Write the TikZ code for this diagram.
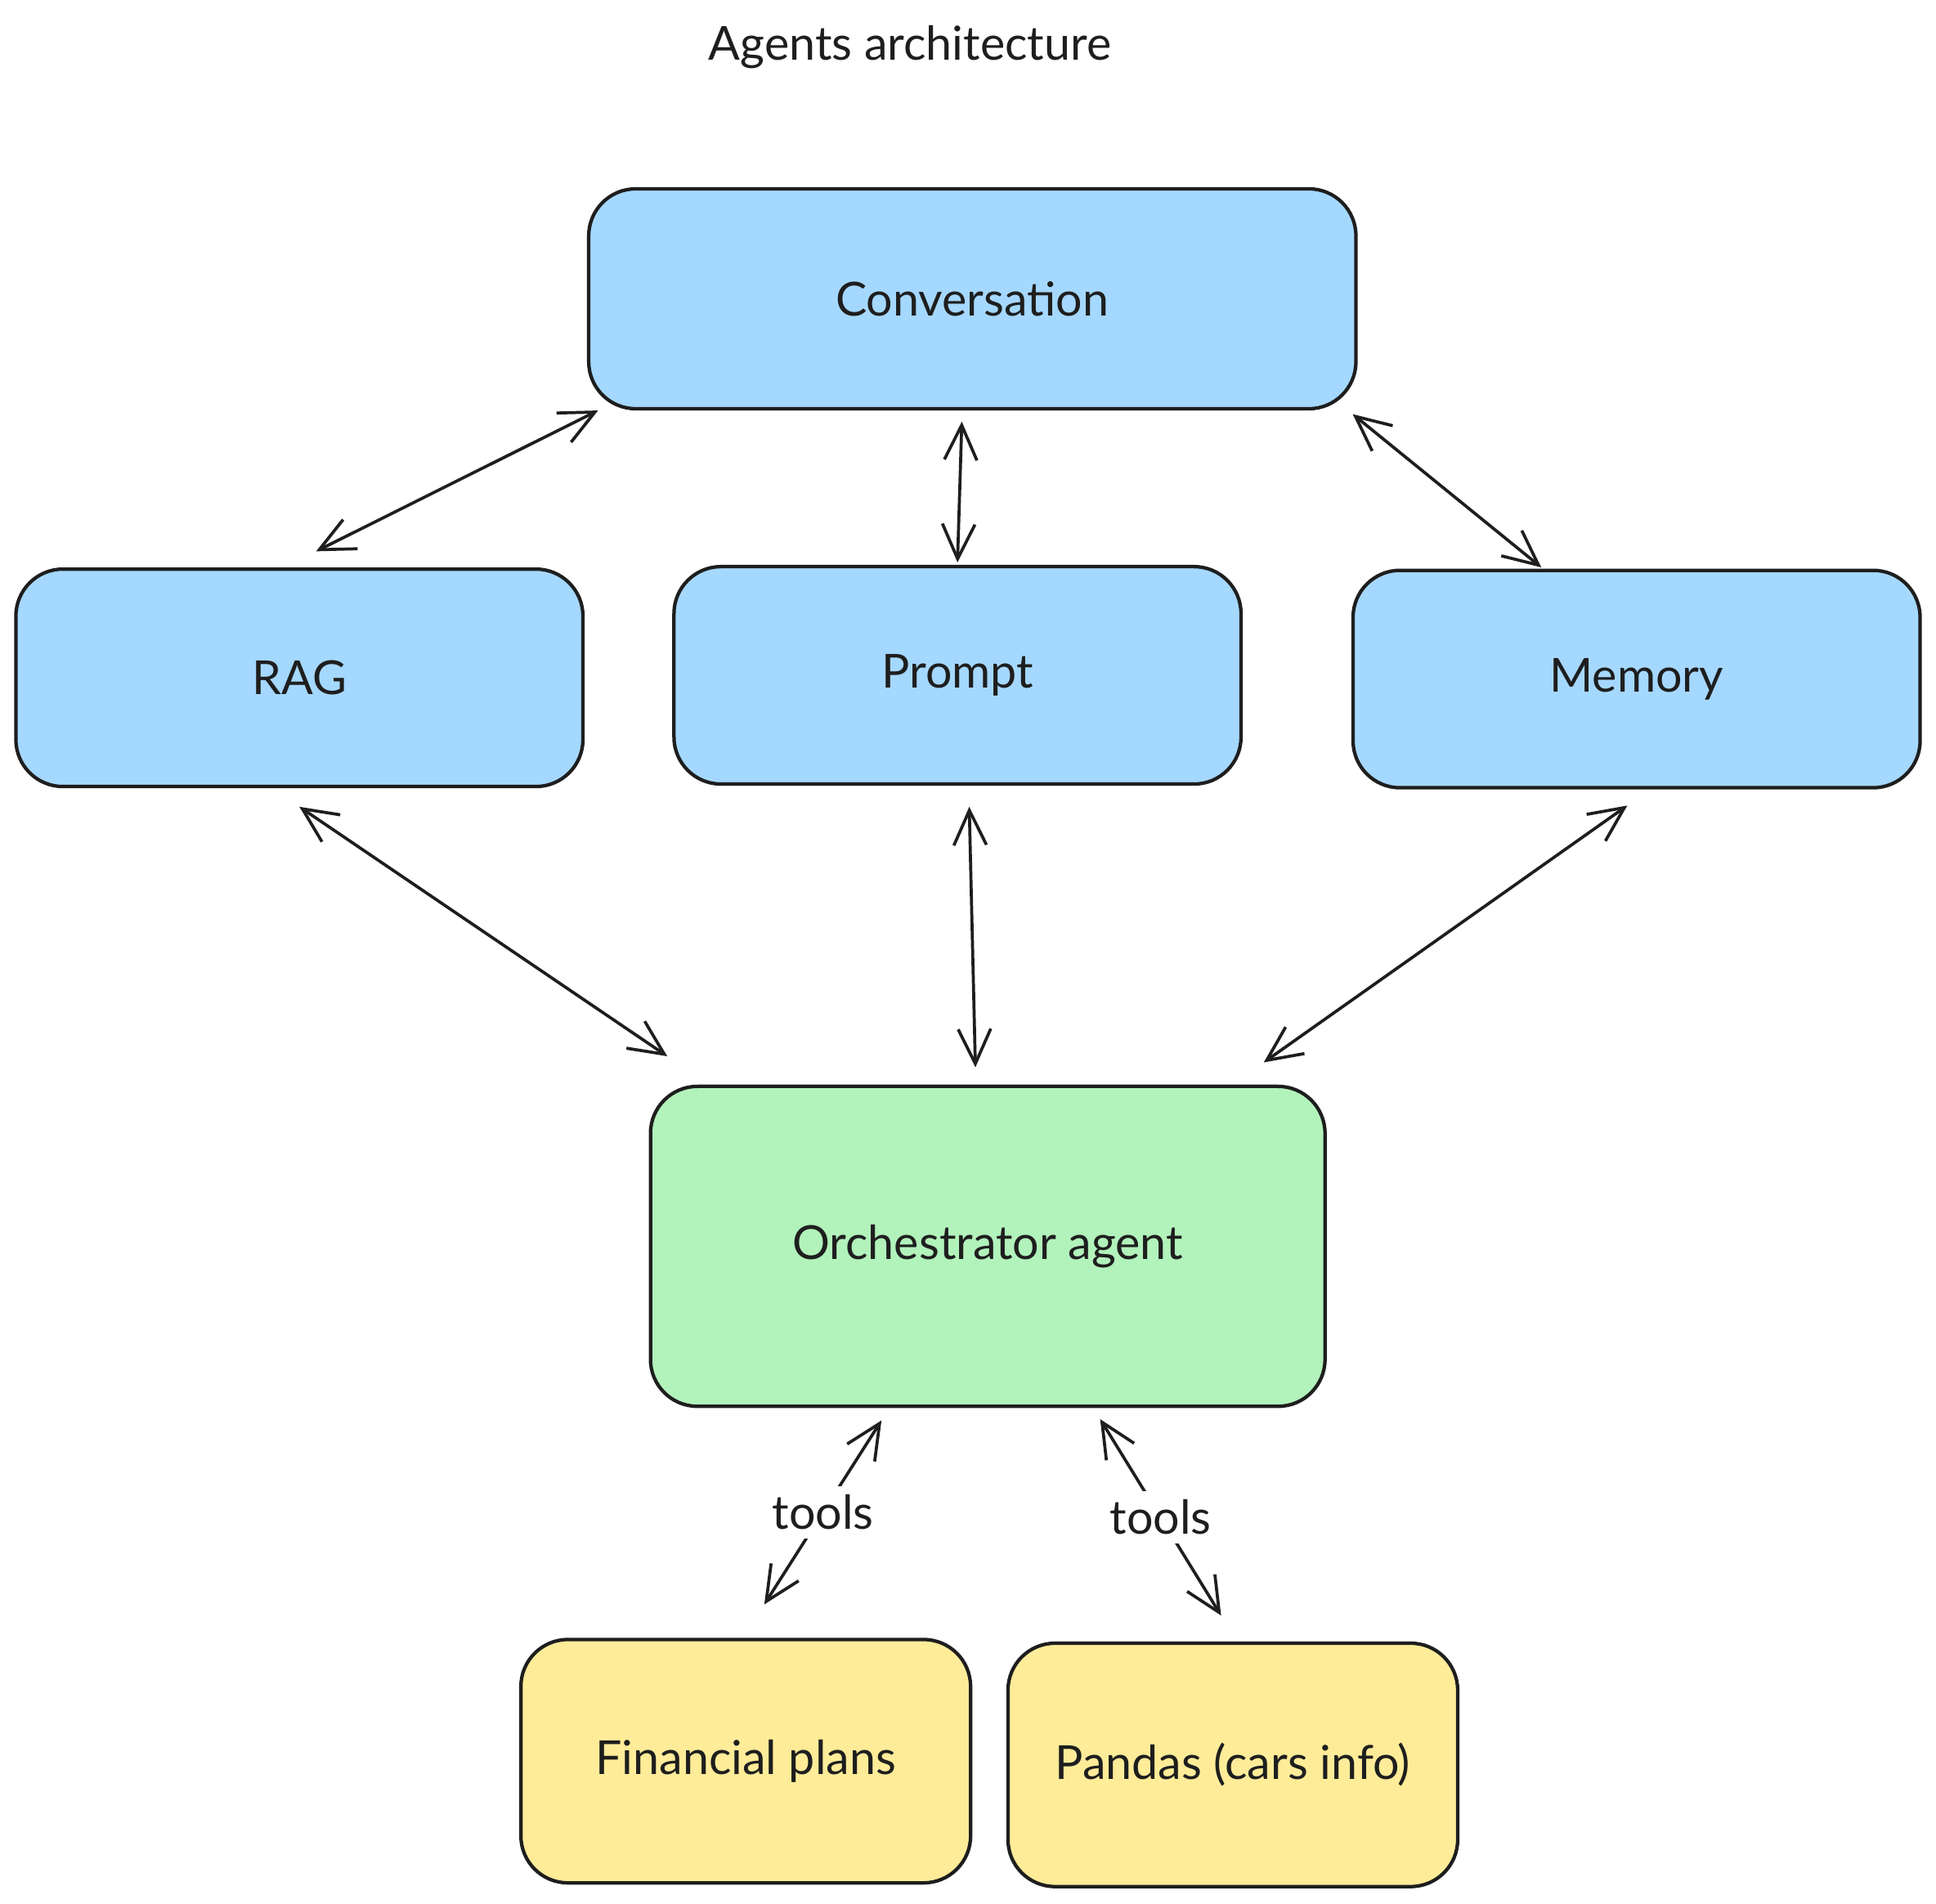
\documentclass[tikz,border=0pt]{standalone}
\usepackage{fontspec}
\setmainfont{Lato}
\usetikzlibrary{arrows.meta,calc}

\definecolor{ink}{HTML}{1E1E1E}
\definecolor{skyfill}{HTML}{A5D8FF}
\definecolor{mintfill}{HTML}{B2F2BB}
\definecolor{sandfill}{HTML}{FFEC99}

\tikzset{
  box/.style={draw=ink, line width=0.8pt, rounded corners=0.38cm, text=ink,
    font=\fontsize{10.8}{13}\selectfont, inner sep=0pt},
  skybox/.style={box, fill=skyfill, minimum width=4.59cm, minimum height=1.76cm},
  toolbox/.style={box, fill=sandfill, minimum width=3.64cm, minimum height=1.97cm},
  link/.style={draw=ink, line width=0.7pt, {Straight Barb[length=8pt,width=7.5pt]}-{Straight Barb[length=8pt,width=7.5pt]}},
  tag/.style={fill=white, text=ink, font=\fontsize{10.8}{13}\selectfont, inner sep=2pt}
}

\begin{document}
\begin{tikzpicture}[x=0.01cm, y=-0.01cm]
  \useasboundingbox (0, 0) rectangle (1568, 1542);

  % title
  \node[text=ink, font=\fontsize{10.8}{13}\selectfont] (title) at (737, 38) {Agents architecture};

  % top row
  \node[box, fill=skyfill, minimum width=6.21cm, minimum height=1.78cm] (conv) at (787.5, 242) {Conversation};

  % middle row
  \node[skybox] (rag) at (242.5, 549) {RAG};
  \node[skybox] (prompt) at (775.5, 547) {Prompt};
  \node[skybox] (memory) at (1325.5, 550) {Memory};

  % agent
  \node[box, fill=mintfill, minimum width=5.46cm, minimum height=2.59cm] (orch) at (800, 1009.5) {Orchestrator agent};

  % tools
  \node[toolbox] (fin) at (604, 1426.5) {Financial plans};
  \node[toolbox] (pandas) at (998.5, 1429.5) {Pandas (cars info)};

  % links to conversation
  \draw[link] ([xshift=0.09cm]conv.south west) -- ([xshift=0.135cm, yshift=0.13cm]rag.north);
  \draw[link] ([xshift=-0.085cm, yshift=-0.09cm]conv.south) -- ([yshift=0.02cm]prompt.north);
  \draw[link] ([xshift=-0.04cm, yshift=-0.03cm]conv.south east) -- ([yshift=0.01cm]$(memory.north west)!0.333!(memory.north east)$);

  % links to the agent
  \draw[link] ([yshift=-0.15cm]rag.south) -- ([xshift=0.15cm, yshift=0.23cm]orch.north west);
  \draw[link] ([xshift=0.095cm, yshift=-0.17cm]prompt.south) -- ([xshift=-0.1cm, yshift=0.14cm]orch.north);
  \draw[link] ([xshift=-0.075cm, yshift=-0.13cm]memory.south) -- ([xshift=-0.51cm, yshift=0.18cm]orch.north east);

  % tool calls
  \draw[link] ([xshift=-0.86cm, yshift=-0.1cm]orch.south) -- ([xshift=0.15cm, yshift=0.27cm]fin.north) node[tag, midway] (tagfin) {tools};
  \draw[link] ([xshift=0.91cm, yshift=-0.09cm]orch.south) -- ([xshift=-0.095cm, yshift=0.21cm]pandas.north) node[tag, midway] (tagpandas) {tools};
\end{tikzpicture}
\end{document}
